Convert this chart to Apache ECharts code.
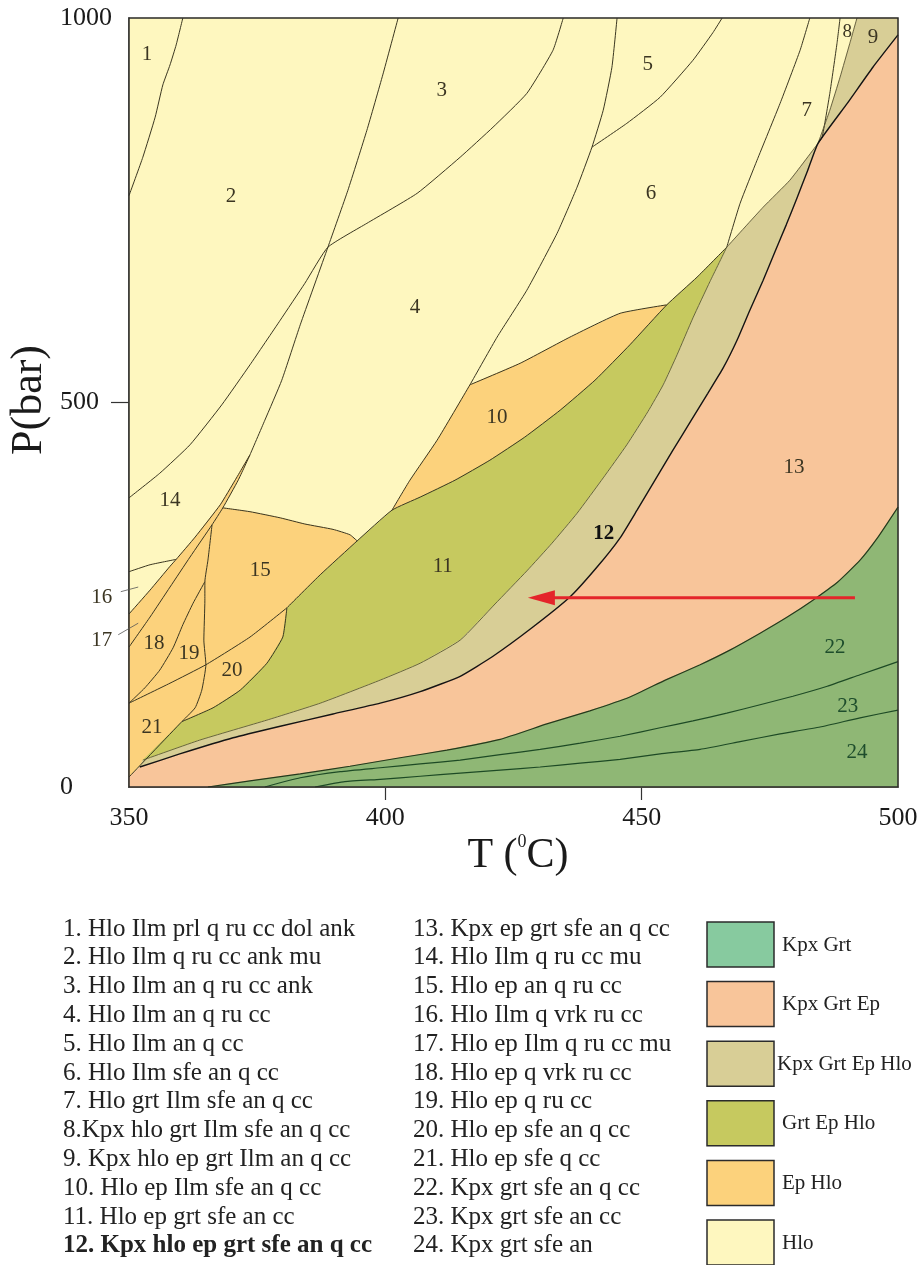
<!DOCTYPE html>
<html><head><meta charset="utf-8">
<script src="https://cdn.jsdelivr.net/npm/echarts@6/dist/echarts.min.js"></script>
<style>html,body{margin:0;padding:0;background:#fff}#c{width:921px;height:1265px}</style>
</head><body><div id="c"></div>
<script>
// ---------- Axis ticks ----------
const xTickLabels = [350, 400, 450, 500];
const yTickLabels = [0, 500, 1000];
const xTickMarks = [400, 450];
const yTickMarks = [500];

// ---------- Boundary curves, [T (°C), P (bar)] ----------
const lineA = [[360.5,1000],[359.2,965],[358.0,939],[356.6,913],[355.1,871],[352.7,819],[350,769]];
const lineB = [[402.5,1000],[399.5,926],[396.4,854],[392.7,776],[388.8,702],[383.4,601],[379.8,529],[376.5,477],[373.6,432]];
const lineC = [[350,376],[356.0,408],[361.9,445],[368.1,497],[373.6,549],[379.5,607],[384.3,655],[388.8,702],[396.4,733],[406.2,772],[414.6,819],[421.0,858],[427.6,902],[432.7,958],[434.7,1000]];
const lineD = [[445.2,1000],[444.2,936],[442.5,880],[440.3,832],[437.4,780],[433.5,720],[427.6,646],[421.8,585],[416.5,523],[410.1,451],[404.8,399],[401.3,360]];
const line56 = [[440.3,832],[447.1,863],[453.6,897],[460.0,945],[463.9,981],[465.7,1000]];
const line67 = [[482.8,1000],[480.9,958],[477.0,889],[472.5,815],[469.2,759],[466.6,702]];
const line78 = [[488.7,1000],[488.1,967],[486.7,902],[485.2,845],[484.4,837]];
const line89 = [[492.0,1000],[490.6,967],[488.7,923],[486.7,880],[484.4,837]];
const lineTanHlo = [[484.4,837],[478.9,789],[473.7,754],[466.6,702]];
const lineTanGreen = [[466.6,702],[463.3,657],[460.0,610],[456.9,562],[454.2,523],[451.2,488],[447.1,445],[442.5,402],[437.4,356],[432.5,317],[427.6,281],[421.4,238],[414.6,191],[406.8,161],[399.0,139],[387.3,109],[376.9,87],[363.8,61],[352.7,35]];
const lineGreenTop = [[466.6,702],[460.8,663],[454.9,627],[447.7,575],[440.9,529],[434.1,490],[427.2,455],[420.4,425],[413.6,399],[406.8,377],[401.3,360],[394.5,320],[387.3,276],[380.8,233]];
const line2011 = [[380.8,233],[380.0,195],[376.9,161],[371.7,126],[366.4,103],[360.3,85]];
const line2111 = [[360.3,85],[350,13]];
const lineOrange10Top = [[416.5,523],[426.3,551],[436.0,585],[445.8,616],[454.9,627]];
const lineWedgeTop = [[373.6,432],[370.7,399],[367.8,367],[362.9,325],[359.2,296],[358.0,287],[354.1,256],[350,225]];
const line4 = [[373.6,432],[371.3,399],[368.3,363],[366.2,341],[361.9,299],[358.0,260],[354.1,221],[350,182]];
const line1416 = [[350,280],[354.1,289],[359.2,296]];
const line15Top = [[368.3,363],[373.6,358],[379.5,350],[384.3,342],[389.8,335],[393.1,328],[394.5,320]];
const line5 = [[366.2,341],[365.4,295],[364.8,267],[364.8,243],[364.6,191],[365.0,159],[364.2,126],[362.9,103],[360.3,85]];
const line6 = [[364.8,267],[362.5,239],[360.5,211],[358.6,181],[356.0,152],[353.1,129],[350,109]];
const line7 = [[350,109],[358.0,135],[365.0,159],[373.6,195],[380.8,233]];
const lineSalmonTop = [[500,978],[495.1,936],[490.1,889],[484.4,837],[482.4,802],[480.3,766],[478.2,731],[476.0,696],[473.7,659],[471.1,620],[468.6,581],[465.9,545],[462.9,512],[459.6,476],[456.1,438],[452.6,399],[449.1,360],[445.8,324],[441.3,286],[436.0,247],[428.6,207],[421.0,170],[414.6,144],[406.8,124],[399.0,109],[389.8,95],[379.5,79],[370.3,64],[359.9,43],[352.1,26]];
const lineDarkTop = [[500,364],[496.1,325],[492.6,295],[488.3,267],[483.4,243],[478.4,221],[473.1,200],[467.2,178],[461.4,159],[454.6,139],[447.7,117],[439.9,99],[431.5,82],[422.4,62],[412.0,48],[402.9,38],[393.1,27],[383.4,17],[373.6,8],[365.4,0]];
const line2223 = [[500,163],[492.6,146],[486.2,131],[479.5,118],[473.1,107],[466.6,96],[460.0,86],[453.6,77],[445.8,66],[438.0,57],[430.2,49],[422.4,42],[414.6,35],[406.8,30],[399.0,25],[391.2,20],[383.4,12],[376.5,0]];
const line2324 = [[500,100],[492.6,90],[484.8,78],[477.0,69],[469.2,59],[461.4,49],[453.6,43],[445.8,36],[438.0,31],[430.2,26],[422.4,22],[414.6,18],[406.8,14],[399.0,10],[392.1,7],[386.3,0]];

// ---------- Arrow (cooling path) ----------
const arrowTail = [491.6, 246];
const arrowTip = [427.8, 246];

// ---------- Field labels ----------
const fieldNumbers = ['1','2','3','4','5','6','7','8','9','10','11','12','13','14','15','16','17','18','19','20','21','22','23','24'];
const fieldLabelAt = [[353.5,952],[369.9,768],[411.0,906],[405.8,623],[451.2,939],[451.8,772],[482.2,880],[490.1,982],[495.1,975],[421.8,480],[411.2,287],[442.6,330],[479.7,415],[358.0,373],[375.6,282],[344.7,247],[344.7,191],[354.9,187],[361.7,173],[370.1,152],[354.5,78],[487.7,182],[490.2,105],[492.0,45]];
const leader16 = [[348.4,254],[351.8,260]];
const leader17 = [[347.9,198],[351.8,213]];

// ---------- Assemblage list ----------
const assemblages = [
 '1. Hlo Ilm prl q ru cc dol ank','2. Hlo Ilm q ru cc ank mu','3. Hlo Ilm an q ru cc ank','4. Hlo Ilm an q ru cc',
 '5. Hlo Ilm an q cc','6. Hlo Ilm sfe an q cc','7. Hlo grt Ilm sfe an q cc','8.Kpx hlo grt Ilm sfe an q cc',
 '9. Kpx hlo ep grt Ilm an q cc','10. Hlo ep Ilm sfe an q cc','11. Hlo ep grt sfe an cc','12. Kpx hlo ep grt sfe an q cc',
 '13. Kpx ep grt sfe an q cc','14. Hlo Ilm q ru cc mu','15. Hlo ep an q ru cc','16. Hlo Ilm q vrk ru cc',
 '17. Hlo ep Ilm q ru cc mu','18. Hlo ep q vrk ru cc','19. Hlo ep q ru cc','20. Hlo ep sfe an q cc',
 '21. Hlo ep sfe q cc','22. Kpx grt sfe an q cc','23. Kpx grt sfe an cc','24. Kpx grt sfe an'
];
const legendClasses = ['Kpx Grt','Kpx Grt Ep','Kpx Grt Ep Hlo','Grt Ep Hlo','Ep Hlo','Hlo'];

const COL = {hlo:'#FEF7BF', epHlo:'#FCD27C', grtEpHlo:'#C6C95F', kpxGrtEpHlo:'#D8CE96', kpxGrtEp:'#F8C59A', kpxGrt:'#8FB775', kpxGrtLegend:'#87CA9F'};
const legendColors = [COL.kpxGrtLegend, COL.kpxGrtEp, COL.kpxGrtEpHlo, COL.grtEpHlo, COL.epHlo, COL.hlo];

// ---------- Build field polygons from the shared boundaries ----------
const rev = a => a.slice().reverse();
const iJ = lineGreenTop.findIndex(p => p[0] === lineD[lineD.length - 1][0]);
const iK = lineGreenTop.findIndex(p => p[0] === line15Top[line15Top.length - 1][0]);
const orange10 = lineOrange10Top.concat(lineGreenTop.slice(3, iJ), rev(lineD.slice(8)));
const orangeLeft = rev(lineWedgeTop).concat(line4.slice(1,3), line15Top.slice(1), lineGreenTop.slice(iK + 1), line2011.slice(1), line2111.slice(1));
const green = lineGreenTop.concat(line2011.slice(1), rev(lineTanGreen));
const tan12 = lineTanHlo.concat(lineTanGreen.slice(1), rev(lineSalmonTop.slice(3)));
const tan9 = line89.concat(rev(lineSalmonTop.slice(0,3)), [[500,1000]]);
const salmon = lineSalmonTop.concat([[350,13],[350,0],[500,0]]);
const darkGreen = lineDarkTop.concat([[500,0]]);

const fills = [
  {c: COL.hlo, pts: [[350,0],[500,0],[500,1000],[350,1000]]},
  {c: COL.epHlo, pts: orange10},
  {c: COL.epHlo, pts: orangeLeft},
  {c: COL.grtEpHlo, pts: green},
  {c: COL.kpxGrtEpHlo, pts: tan12},
  {c: COL.kpxGrtEpHlo, pts: tan9},
  {c: COL.kpxGrtEp, pts: salmon},
  {c: COL.kpxGrt, pts: darkGreen}
];

const dark = '#3a3620';
const boundaries = [
  {pts: lineA, c: dark, w: 1}, {pts: lineB, c: dark, w: 1}, {pts: lineC, c: dark, w: 1}, {pts: lineD, c: dark, w: 1},
  {pts: line56, c: dark, w: 1}, {pts: line67, c: dark, w: 1}, {pts: line78, c: dark, w: 1}, {pts: line89, c: '#5a5535', w: 0.9},
  {pts: lineTanHlo, c: '#5a5535', w: 0.9}, {pts: lineTanGreen, c: '#5a5a30', w: 0.9}, {pts: lineGreenTop, c: dark, w: 1},
  {pts: line2011, c: dark, w: 1}, {pts: line2111, c: dark, w: 1}, {pts: lineOrange10Top, c: dark, w: 1},
  {pts: lineWedgeTop, c: dark, w: 1}, {pts: line4, c: dark, w: 1}, {pts: line1416, c: dark, w: 1},
  {pts: line15Top, c: dark, w: 1}, {pts: line5, c: dark, w: 1}, {pts: line6, c: dark, w: 1}, {pts: line7, c: dark, w: 1},
  {pts: lineSalmonTop, c: '#141414', w: 1.4}, {pts: lineDarkTop, c: '#26391c', w: 1.2},
  {pts: line2223, c: '#1d4a25', w: 1.2}, {pts: line2324, c: '#1d4a25', w: 1.2}
];

const SERIF = '"Liberation Serif", "DejaVu Serif", serif';
const series = [];

series.push({
  type: 'custom', coordinateSystem: 'cartesian2d', silent: true, z: 1, clip: false,
  data: fills.map(f => f.pts[0]),
  renderItem: (params, api) => {
    const f = fills[params.dataIndex];
    return {type: 'polygon', shape: {points: f.pts.map(p => api.coord(p))}, style: {fill: f.c, stroke: f.c, lineWidth: 0.5}};
  }
});

boundaries.forEach(b => series.push({
  type: 'line', data: b.pts, showSymbol: false, symbol: 'none', silent: true, z: 3, smooth: 0.15,
  lineStyle: {color: b.c, width: b.w}, emphasis: {disabled: true}
}));

// arrow, frame, leaders
series.push({
  type: 'custom', coordinateSystem: 'cartesian2d', silent: true, z: 5, clip: false,
  data: [arrowTail],
  renderItem: (params, api) => {
    const t = api.coord(arrowTail), h = api.coord(arrowTip);
    const tl = api.coord([350,1000]), br = api.coord([500,0]);
    const l16 = leader16.map(p => api.coord(p)), l17 = leader17.map(p => api.coord(p));
    const headLen = 27, half = 7.5;
    return {type: 'group', children: [
      {type: 'line', shape: {x1: t[0], y1: t[1], x2: h[0] + headLen - 2, y2: h[1]}, style: {stroke: '#E4252A', lineWidth: 3}},
      {type: 'polygon', shape: {points: [[h[0], h[1]], [h[0] + headLen, h[1] - half], [h[0] + headLen, h[1] + half]]}, style: {fill: '#E4252A'}},
      {type: 'rect', shape: {x: tl[0], y: tl[1], width: br[0] - tl[0], height: br[1] - tl[1]}, style: {fill: 'none', stroke: '#2a2a2a', lineWidth: 1.5}},
      {type: 'line', shape: {x1: l16[0][0], y1: l16[0][1], x2: l16[1][0], y2: l16[1][1]}, style: {stroke: '#555', lineWidth: 0.8}},
      {type: 'line', shape: {x1: l17[0][0], y1: l17[0][1], x2: l17[1][0], y2: l17[1][1]}, style: {stroke: '#555', lineWidth: 0.8}}
    ]};
  }
});

// field numbers
series.push({
  type: 'custom', coordinateSystem: 'cartesian2d', silent: true, z: 6, clip: false,
  data: fieldLabelAt,
  renderItem: (params, api) => {
    const i = params.dataIndex;
    const p = api.coord(fieldLabelAt[i]);
    const bold = i === 11;
    const col = i >= 21 ? '#1e4d2c' : (bold ? '#111' : '#3b3522');
    return {type: 'text', x: p[0], y: p[1], style: {
      text: fieldNumbers[i], font: (bold ? 'bold ' : '') + (i === 7 ? '19px ' : '21px ') + SERIF,
      fill: col, align: 'center', verticalAlign: 'middle', textAlign: 'center', textVerticalAlign: 'middle'}};
  }
});

// ---------- Legend & axis titles (graphic) ----------
const graphic = [];
assemblages.forEach((s, i) => {
  const col = i < 12 ? 0 : 1, row = i % 12;
  graphic.push({type: 'text', x: col === 0 ? 63 : 413, y: 929 + row * 28.8, silent: true, style: {
    text: s, font: (i === 11 ? 'bold ' : '') + '25px ' + SERIF, fill: '#222',
    align: 'left', verticalAlign: 'middle', textAlign: 'left', textVerticalAlign: 'middle'}});
});
legendClasses.forEach((s, i) => {
  const top = 922 + i * 59.6;
  graphic.push({type: 'rect', shape: {x: 707, y: top, width: 67, height: 45}, silent: true,
    style: {fill: legendColors[i], stroke: '#2b2b2b', lineWidth: 1.5}});
  graphic.push({type: 'text', x: i === 2 ? 777 : 782, y: top + 23, silent: true, style: {
    text: s, font: '21px ' + SERIF, fill: '#222', align: 'left', verticalAlign: 'middle', textAlign: 'left', textVerticalAlign: 'middle'}});
});
graphic.push({type: 'text', x: 29, y: 400, rotation: Math.PI / 2, silent: true, style: {
  text: 'P(bar)', font: '44px ' + SERIF, fill: '#1a1a1a', align: 'center', verticalAlign: 'middle', textAlign: 'center', textVerticalAlign: 'middle'}});
graphic.push({type: 'text', x: 518, y: 853, silent: true, style: {
  text: '{n|T (}{s|0}{n|C)}', align: 'center', verticalAlign: 'middle', textAlign: 'center', textVerticalAlign: 'middle',
  rich: {n: {font: '42px ' + SERIF, fill: '#1a1a1a', lineHeight: 48, verticalAlign: 'bottom'},
         s: {font: '18px ' + SERIF, fill: '#1a1a1a', lineHeight: 48, verticalAlign: 'top', padding: [4, 0, 0, 0]}}}});

const chart = echarts.init(document.getElementById('c'), null, {renderer: 'canvas'});
chart.setOption({
  animation: false,
  backgroundColor: '#ffffff',
  grid: {left: 129, top: 18, width: 769, height: 769, containLabel: false},
  xAxis: {type: 'value', min: 350, max: 500, interval: 50,
    axisLine: {show: true, lineStyle: {color: '#2a2a2a', width: 1.5}},
    axisTick: {show: true, customValues: xTickMarks, length: 13, lineStyle: {color: '#333', width: 1.2}},
    axisLabel: {customValues: xTickLabels, fontSize: 26, fontFamily: SERIF, color: '#1a1a1a', margin: 18, formatter: v => String(v)},
    splitLine: {show: false}},
  yAxis: {type: 'value', min: 0, max: 1000, interval: 500,
    axisLine: {show: true, lineStyle: {color: '#2a2a2a', width: 1.5}},
    axisTick: {show: true, customValues: yTickMarks, length: 18, lineStyle: {color: '#333', width: 1.2}},
    axisLabel: {customValues: yTickLabels, fontSize: 26, fontFamily: SERIF, color: '#1a1a1a', align: 'left', margin: 69, formatter: v => String(v)},
    splitLine: {show: false}},
  graphic: graphic,
  series: series
});
</script></body></html>
